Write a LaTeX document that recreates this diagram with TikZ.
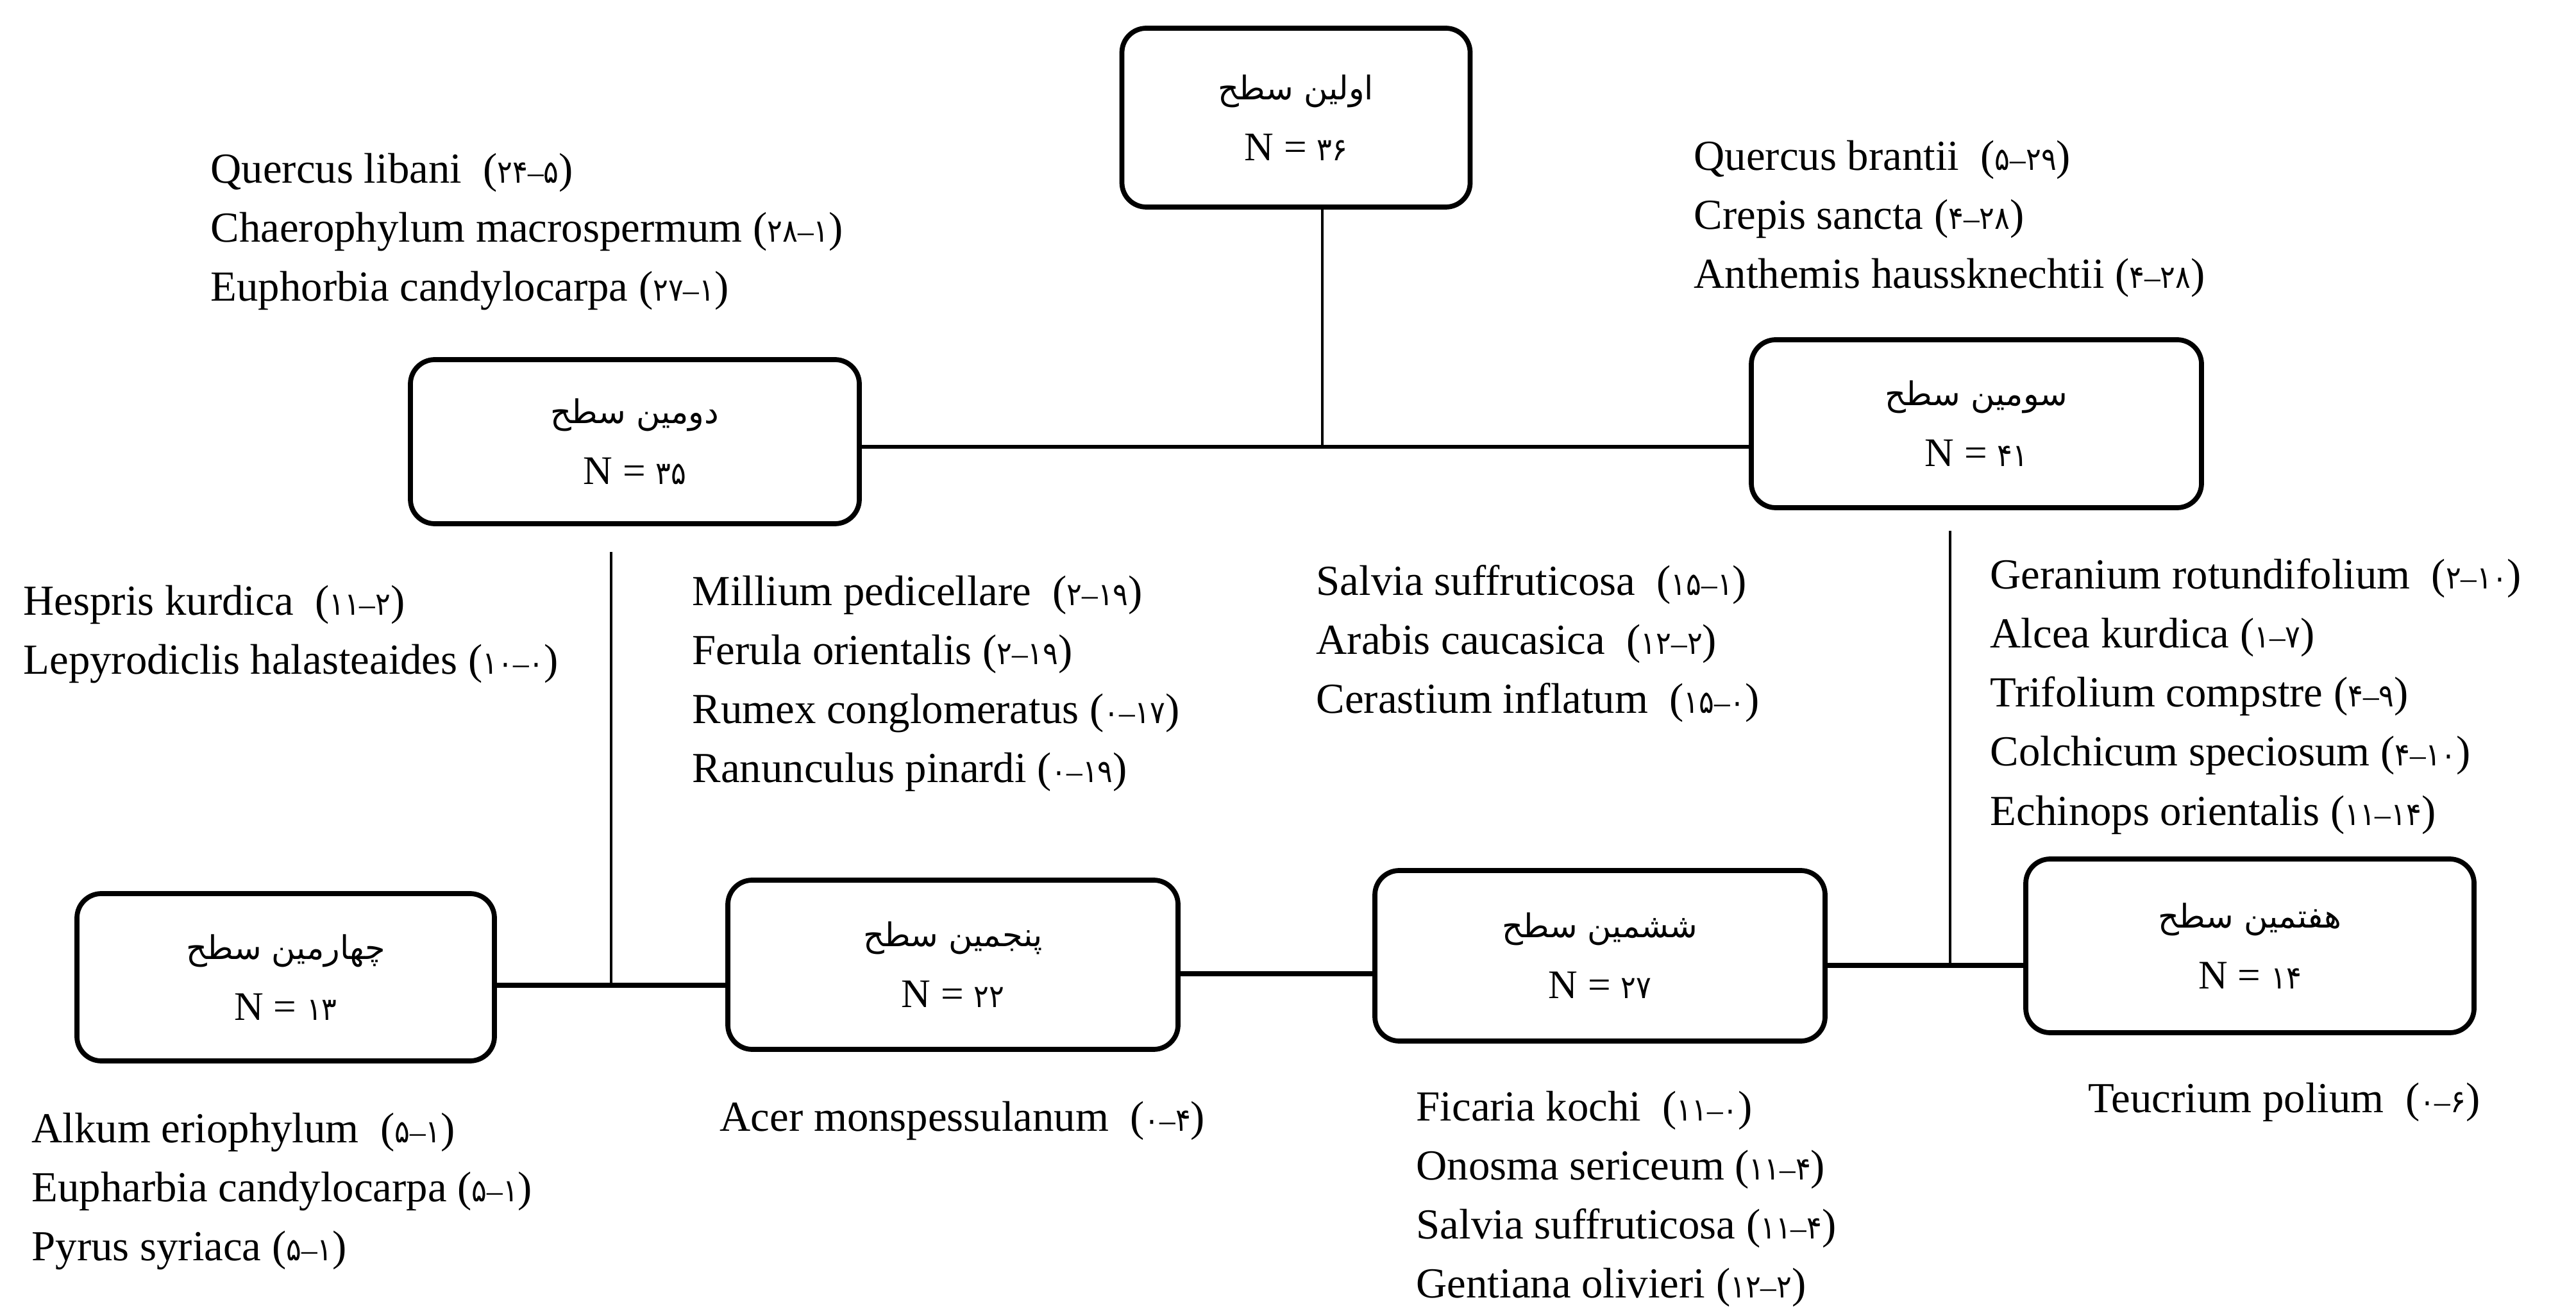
\documentclass[tikz,border=0pt]{standalone}
\usepackage{fontspec}
\setmainfont{Liberation Serif}
\newfontfamily\fa[Script=Arabic]{DejaVu Sans}
\newfontfamily\fadig[Script=Arabic]{DejaVu Sans Condensed}
\TeXXeTstate=1
\newcommand{\pdig}[1]{{\fadig\fontsize{14}{14}\selectfont #1}}
\newcommand{\pgrp}[2]{(\pdig{#1}{\fontsize{14}{14}\selectfont –}\pdig{#2})}
\newcommand{\boxttl}[1]{{\fa\fontsize{14.5}{16}\selectfont\beginR #1\endR}}
\begin{document}
\begin{tikzpicture}[
  lvl/.style={draw, line width=2.2pt, rounded corners=0.38cm, align=center, inner sep=0pt, font=\fontsize{18}{27}\selectfont},
  lab/.style={anchor=north west, align=left, inner sep=0pt, font=\fontsize{19}{26.2}\selectfont},
  vline/.style={line width=1.4pt},
  hline/.style={line width=1.6pt},
  bline/.style={line width=2.2pt}
]
\fill[white] (0,0) rectangle (40.17,-20.42);
\useasboundingbox (0,0) rectangle (40.17,-20.42);

% level boxes
\node[lvl, minimum width=5.43cm, minimum height=2.79cm] (b1) at (20.21,-1.835) {\boxttl{اولین سطح}\\N = \pdig{۳۶}};
\node[lvl, minimum width=7.00cm, minimum height=2.56cm] (b2) at (9.90,-6.89) {\boxttl{دومین سطح}\\N = \pdig{۳۵}};
\node[lvl, minimum width=7.02cm, minimum height=2.62cm] (b3) at (30.82,-6.61) {\boxttl{سومین سطح}\\N = \pdig{۴۱}};
\node[lvl, minimum width=6.51cm, minimum height=2.61cm] (b4) at (4.455,-15.245) {\boxttl{چهارمین سطح}\\N = \pdig{۱۳}};
\node[lvl, minimum width=7.02cm, minimum height=2.64cm] (b5) at (14.86,-15.05) {\boxttl{پنجمین سطح}\\N = \pdig{۲۲}};
\node[lvl, minimum width=7.02cm, minimum height=2.66cm] (b6) at (24.95,-14.91) {\boxttl{ششمین سطح}\\N = \pdig{۲۷}};
\node[lvl, minimum width=6.99cm, minimum height=2.71cm] (b7) at (35.085,-14.755) {\boxttl{هفتمین سطح}\\N = \pdig{۱۴}};

% junction coordinates
\coordinate (j1) at (20.62,-6.97);
\coordinate (j2) at (9.53,-8.61);
\coordinate (j3) at (9.53,-15.37);
\coordinate (m56) at (19.90,-15.19);
\coordinate (j6) at (30.41,-8.28);
\coordinate (j5) at (30.41,-15.06);

% connectors
\draw[vline] (b1.south -| j1) -- (j1);
\draw[hline] (b2.east |- j1) -- (b3.west |- j1);
\draw[vline] (j2) -- (j3);
\draw[bline] (b4.east |- j3) -- (b5.west |- j3);
\draw[bline] (b5.east |- m56) -- (b6.west |- m56);
\draw[vline] (j6) -- (j5);
\draw[bline] (b6.east |- j5) -- (b7.west |- j5);

% species lists
\node[lab] (t1) at (3.28,-2.38) {Quercus libani\ \ \pgrp{۲۴}{۵}\\Chaerophylum macrospermum \pgrp{۲۸}{۱}\\Euphorbia candylocarpa \pgrp{۲۷}{۱}};
\node[lab] (t2) at (26.41,-2.18) {Quercus brantii\ \ \pgrp{۵}{۲۹}\\Crepis sancta \pgrp{۴}{۲۸}\\Anthemis haussknechtii \pgrp{۴}{۲۸}};
\node[lab] (t3) at (0.36,-9.12) {Hespris kurdica\ \ \pgrp{۱۱}{۲}\\Lepyrodiclis halasteaides \pgrp{۱۰}{۰}};
\node[lab] (t4) at (10.79,-8.97) {Millium pedicellare\ \ \pgrp{۲}{۱۹}\\Ferula orientalis \pgrp{۲}{۱۹}\\Rumex conglomeratus \pgrp{۰}{۱۷}\\Ranunculus pinardi \pgrp{۰}{۱۹}};
\node[lab] (t5) at (20.52,-8.81) {Salvia suffruticosa\ \ \pgrp{۱۵}{۱}\\Arabis caucasica\ \ \pgrp{۱۲}{۲}\\Cerastium inflatum\ \ \pgrp{۱۵}{۰}};
\node[lab] (t6) at (31.03,-8.71) {Geranium rotundifolium\ \ \pgrp{۲}{۱۰}\\Alcea kurdica \pgrp{۱}{۷}\\Trifolium compstre \pgrp{۴}{۹}\\Colchicum speciosum \pgrp{۴}{۱۰}\\Echinops orientalis \pgrp{۱۱}{۱۴}};
\node[lab] (t7) at (0.49,-17.35) {Alkum eriophylum\ \ \pgrp{۵}{۱}\\Eupharbia candylocarpa \pgrp{۵}{۱}\\Pyrus syriaca \pgrp{۵}{۱}};
\node[lab] (t8) at (11.22,-17.17) {Acer monspessulanum\ \ \pgrp{۰}{۴}};
\node[lab] (t9) at (22.08,-17.01) {Ficaria kochi\ \ \pgrp{۱۱}{۰}\\Onosma sericeum \pgrp{۱۱}{۴}\\Salvia suffruticosa \pgrp{۱۱}{۴}\\Gentiana olivieri \pgrp{۱۲}{۲}};
\node[lab] (t10) at (32.56,-16.88) {Teucrium polium\ \ \pgrp{۰}{۶}};
\end{tikzpicture}
\end{document}
